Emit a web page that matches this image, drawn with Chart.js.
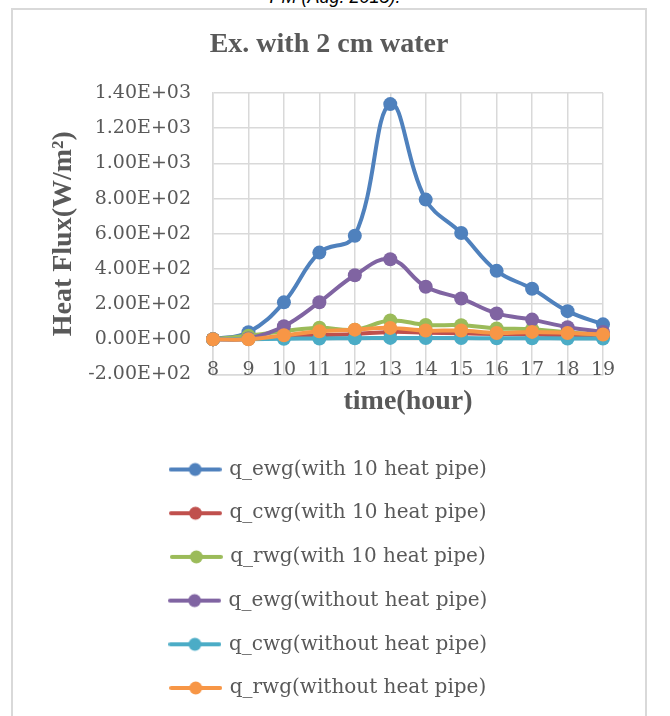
<!DOCTYPE html>
<html>
<head>
<meta charset="utf-8">
<script src="https://cdn.jsdelivr.net/npm/chart.js@4.4.0/dist/chart.umd.min.js"></script>
<style>
body { margin: 0; background: #fff; overflow: hidden; }
#wrap { position: relative; width: 670px; height: 716px; overflow: hidden; }
#caption { position: absolute; left: 0; width: 670px; top: -12px; text-align: center;
  font: italic 18px "Liberation Sans", Arial, sans-serif; line-height: 18px; color: #000; }
#frame { position: absolute; left: 11px; top: 8px; width: 636px; height: 730px;
  box-sizing: border-box; border: 2px solid #d9d9d9; }
canvas { position: absolute; left: 0; top: 0; }
</style>
</head>
<body>
<div id="wrap">
  <div id="caption">PM (Aug. 2015).</div>
  <div id="frame"></div>
  <canvas id="chart" width="670" height="716"></canvas>
</div>
<script>
// hours of the day
var hours = ['8', '9', '10', '11', '12', '13', '14', '15', '16', '17', '18', '19'];

// heat flux values (W/m2)
var qEwgWith    = [0, 40, 210, 493, 589, 1337, 794, 604, 389, 287, 160, 85];
var qCwgWith    = [0, 3, 12, 22, 30, 42, 38, 34, 30, 28, 22, 16];
var qRwgWith    = [0, 20, 46, 66, 55, 107, 82, 80, 62, 57, 40, 25];
var qEwgWithout = [0, 5, 74, 211, 364, 455, 299, 232, 147, 112, 69, 42];
var qCwgWithout = [0, 1, 3, 5, 6, 8, 7, 7, 6, 6, 5, 4];
var qRwgWithout = [0, 0, 23, 46, 55, 65, 50, 50, 36, 42, 36, 27];

var seriesNames = [
  'q_ewg(with 10 heat pipe)',
  'q_cwg(with 10 heat pipe)',
  'q_rwg(with 10 heat pipe)',
  'q_ewg(without heat pipe)',
  'q_cwg(without heat pipe)',
  'q_rwg(without heat pipe)'
];
var seriesColors = ['#4F81BD', '#C0504D', '#9BBB59', '#8064A2', '#4BACC6', '#F79646'];
var seriesData = [qEwgWith, qCwgWith, qRwgWith, qEwgWithout, qCwgWithout, qRwgWithout];

var textGrey = '#595959';
var gridGrey = '#d9d9d9';

// legend swatch: line with a dot in the middle
function makeMarker(color) {
  var c = document.createElement('canvas');
  c.width = 53; c.height = 16;
  var g = c.getContext('2d');
  g.strokeStyle = color; g.lineWidth = 4; g.lineCap = 'round';
  g.beginPath(); g.moveTo(2, 8); g.lineTo(51, 8); g.stroke();
  g.fillStyle = color;
  g.beginPath(); g.arc(26.5, 8, 6.5, 0, Math.PI * 2); g.fill();
  return c;
}
var markers = seriesColors.map(makeMarker);

// 1400 -> 1.40E+03
function sci(v) {
  var s = Number(v).toExponential(2).split('e');
  var e = parseInt(s[1], 10);
  return s[0] + 'E' + (e < 0 ? '-' : '+') + (Math.abs(e) < 10 ? '0' : '') + Math.abs(e);
}

// Excel puts the hour labels inside the lowest grid row, chart.js clips
// tick labels to the axis box, so they are written here from the x scale
var hourLabels = {
  id: 'hourLabels',
  afterDatasetsDraw: function(chart) {
    var xs = chart.scales.x, ys = chart.scales.y, ctx = chart.ctx;
    var y = ys.getPixelForValue(ys.min) - 4;
    ctx.save();
    ctx.font = '19px "DejaVu Serif"';
    ctx.fillStyle = textGrey;
    ctx.textAlign = 'center';
    ctx.textBaseline = 'middle';
    hours.forEach(function(h, i) { ctx.fillText(h, xs.getPixelForTick(i), y); });
    ctx.restore();
  }
};

var datasets = seriesData.map(function(d, i) {
  return {
    label: seriesNames[i],
    data: d,
    borderColor: seriesColors[i],
    backgroundColor: seriesColors[i],
    pointBackgroundColor: seriesColors[i],
    order: seriesData.length - i   // last series drawn on top, like Excel
  };
});

new Chart(document.getElementById('chart'), {
  type: 'line',
  data: { labels: hours, datasets: datasets },
  plugins: [hourLabels],
  options: {
    responsive: false,
    animation: false,
    events: [],
    layout: { padding: { left: 0, right: 12, top: 0, bottom: 8 } },
    elements: {
      line: { borderWidth: 4, tension: 0.4, fill: false },
      point: { radius: 7, borderWidth: 0, hoverRadius: 7 }
    },
    scales: {
      x: {
        type: 'category',
        offset: false,
        grid: { color: gridGrey, lineWidth: 1.5, drawTicks: false },
        border: { color: gridGrey, width: 1.5 },
        ticks: { display: false },
        title: { display: true, text: 'time(hour)', color: textGrey,
                 font: { family: 'Liberation Serif', size: 28, weight: 'bold' },
                 padding: { top: 10.2, bottom: 17.5 } }
      },
      y: {
        min: -200, max: 1400,
        grid: { color: gridGrey, lineWidth: 1.5, drawTicks: false },
        border: { color: gridGrey, width: 1.5 },
        ticks: { stepSize: 200, padding: 22, color: textGrey, callback: sci,
                 font: { family: 'DejaVu Serif', size: 19 } },
        title: { display: true, text: 'Heat Flux(W/m\u00B2)', color: textGrey,
                 font: { family: 'Liberation Serif', size: 28, weight: 'bold' },
                 padding: { top: 47.2, bottom: 0 } },
        afterFit: function(s) { s.width = 213; }
      },
      yRight: {
        position: 'right',
        display: true,
        grid: { display: false },
        border: { display: false },
        ticks: { display: false },
        afterFit: function(s) { s.width = 55; }
      }
    },
    plugins: {
      title: {
        display: true, text: 'Ex. with 2 cm water', color: textGrey,
        font: { family: 'Liberation Serif', size: 28, weight: 'bold' },
        padding: { top: 28.2, bottom: 31.2 }
      },
      legend: {
        position: 'bottom',
        labels: {
          usePointStyle: true,
          pointStyleWidth: 48,
          padding: 23.7,
          color: textGrey,
          font: { family: 'DejaVu Serif', size: 20 },
          sort: function(a, b) { return a.datasetIndex - b.datasetIndex; },
          generateLabels: function(chart) {
            var items = Chart.defaults.plugins.legend.labels.generateLabels(chart);
            items.forEach(function(it) { it.pointStyle = markers[it.datasetIndex]; });
            return items;
          }
        }
      },
      tooltip: { enabled: false }
    }
  }
});
</script>
</body>
</html>
